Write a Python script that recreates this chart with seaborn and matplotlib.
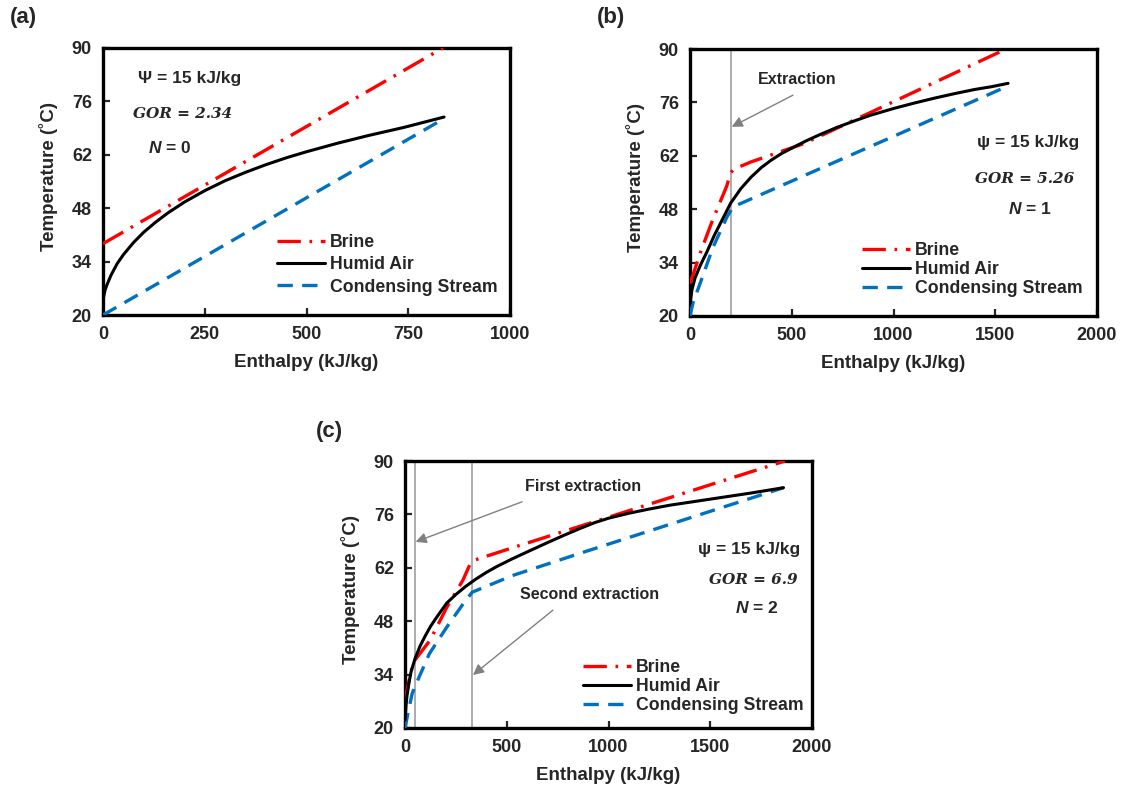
import numpy as np
import pandas as pd
import matplotlib
matplotlib.use("Agg")
import matplotlib.pyplot as plt
import seaborn as sns

# ---- Panel (a): N = 0 ----
a_brine_h = [0, 835]
a_brine_t = [38.7, 90]
a_air_h = [0, 5, 10, 20, 35, 50, 75, 100, 130, 160, 200, 250, 300, 350, 400,
           450, 500, 575, 650, 740, 838]
a_air_t = [24.0, 26.5, 28.0, 30.5, 33.5, 35.8, 39.0, 41.7, 44.4, 46.8, 49.6, 52.6,
           55.2, 57.4, 59.4, 61.2, 62.8, 65.0, 67.0, 69.2, 71.9]
a_cond_h = [0, 838]
a_cond_t = [20.0, 71.5]

# ---- Panel (b): N = 1, extraction at ~200 kJ/kg ----
b_brine_h = [0, 10, 50, 110, 180, 200, 220, 300, 430, 560, 1553]
b_brine_t = [28.5, 30.0, 36.5, 45.0, 54.0, 57.6, 58.6, 60.4, 62.8, 65.2, 90.0]
b_air_h = [0, 10, 25, 50, 83, 120, 160, 200, 250, 300, 350, 400, 450, 500, 570,
           640, 720, 800, 885, 1000, 1100, 1200, 1300, 1400, 1480, 1563]
b_air_t = [23.2, 27.0, 30.0, 33.2, 36.8, 41.2, 45.4, 49.6, 53.4, 56.4, 58.9, 60.9,
           62.6, 64.0, 65.9, 67.6, 69.4, 71.0, 72.6, 74.4, 75.8, 77.1, 78.3, 79.4,
           80.1, 81.0]
b_cond_h = [0, 15, 50, 113, 182, 211, 1563]
b_cond_t = [20.0, 23.5, 28.6, 38.0, 46.0, 48.6, 80.3]
b_extract = [200]

# ---- Panel (c): N = 2, extractions at ~50 and ~330 kJ/kg ----
c_brine_h = [0, 10, 25, 40, 123, 206, 285, 320, 340, 531, 1867]
c_brine_t = [26.8, 30.0, 33.5, 37.2, 43.0, 51.7, 58.8, 63.0, 64.0, 67.3, 90.0]
c_air_h = [0, 5, 10, 20, 30, 50, 75, 100, 125, 150, 175, 206, 250, 300, 350, 400,
           450, 525, 614, 700, 780, 860, 930, 1000, 1100, 1200, 1300, 1400, 1500,
           1600, 1700, 1860]
c_air_t = [22.0, 26.0, 28.5, 32.0, 34.8, 38.3, 41.6, 44.2, 46.6, 48.6, 50.5, 52.8,
           55.0, 57.2, 59.1, 60.8, 62.3, 64.3, 66.5, 68.6, 70.5, 72.3, 73.8, 75.0,
           76.3, 77.4, 78.4, 79.2, 80.0, 80.8, 81.6, 83.0]
c_cond_h = [0, 15, 35, 50, 120, 206, 285, 330, 530, 860, 1860]
c_cond_t = [20.0, 24.0, 29.0, 31.0, 39.5, 46.5, 52.5, 55.6, 60.0, 65.8, 83.0]
c_extract = [50, 330]

y_ticks = [20, 34, 48, 62, 76, 90]
series_names = ["Brine", "Humid Air", "Condensing Stream"]

sns.set_style("ticks")
plt.rcParams["font.family"] = ["Liberation Sans", "DejaVu Sans"]
plt.rcParams["font.weight"] = "bold"
plt.rcParams["mathtext.fontset"] = "custom"
plt.rcParams["mathtext.it"] = "Liberation Sans:italic:bold"
plt.rcParams["mathtext.rm"] = "Liberation Sans:bold"

RED = "#FF0000"
BLUE = "#0070C0"
GRAY = "#A6A6A6"

fig = plt.figure(figsize=(11.22, 7.90), dpi=100)
W, H = 1122, 790


def add_axes(left, top, right, bottom):
    return fig.add_axes([left / W, 1 - bottom / H, (right - left) / W, (bottom - top) / H])


ax_a = add_axes(103, 48, 510, 315)
ax_b = add_axes(690, 49, 1097, 316)
ax_c = add_axes(405, 461, 812, 728)


def draw_panel(ax, bh, bt, ah, at, ch, ct, xmax, xticks, extract):
    for x in extract:
        ax.axvline(x, color=GRAY, lw=1.3, zorder=1)
    df_b = pd.DataFrame({"h": bh, "t": bt})
    df_a = pd.DataFrame({"h": ah, "t": at})
    df_c = pd.DataFrame({"h": ch, "t": ct})
    sns.lineplot(data=df_b, x="h", y="t", ax=ax, color=RED, lw=2.4,
                 linestyle=(0, (7, 2.6, 0.8, 2.6)), label=series_names[0], zorder=3)
    sns.lineplot(data=df_a, x="h", y="t", ax=ax, color="black", lw=2.2,
                 label=series_names[1], zorder=4)
    sns.lineplot(data=df_c, x="h", y="t", ax=ax, color=BLUE, lw=2.4,
                 linestyle=(0, (4.6, 2.8)), label=series_names[2], zorder=3)
    ax.set_xlim(0, xmax)
    ax.set_ylim(20, 90)
    ax.set_xticks(xticks)
    ax.set_yticks(y_ticks)
    ax.set_xlabel("Enthalpy (kJ/kg)", fontsize=13.5, fontweight="bold", labelpad=8)
    ax.set_ylabel("Temperature (˚C)", fontsize=13.5, fontweight="bold")
    ax.yaxis.set_label_coords(-0.11, 0.52)
    for s in ax.spines.values():
        s.set_linewidth(2.4)
        s.set_color("black")
        s.set_visible(True)
    ax.tick_params(direction="in", length=5, width=1.6, labelsize=13, pad=8)
    for lab in ax.get_xticklabels() + ax.get_yticklabels():
        lab.set_fontweight("bold")


draw_panel(ax_a, a_brine_h, a_brine_t, a_air_h, a_air_t, a_cond_h, a_cond_t,
           1000, [0, 250, 500, 750, 1000], [])
draw_panel(ax_b, b_brine_h, b_brine_t, b_air_h, b_air_t, b_cond_h, b_cond_t,
           2000, [0, 500, 1000, 1500, 2000], b_extract)
draw_panel(ax_c, c_brine_h, c_brine_t, c_air_h, c_air_t, c_cond_h, c_cond_t,
           2000, [0, 500, 1000, 1500, 2000], c_extract)

# legends
leg_kw = dict(frameon=False, handlelength=2.7, handletextpad=0.3,
              borderpad=0, borderaxespad=0, prop={"weight": "bold", "size": 12.7})
ax_a.legend(loc="upper left", bbox_to_anchor=((277 - 103) / 407, (315 - 234) / 267),
            labelspacing=0.3, **leg_kw)
ax_b.legend(loc="upper left", bbox_to_anchor=((862 - 690) / 407, (316 - 242) / 267),
            labelspacing=0.12, **leg_kw)
ax_c.legend(loc="upper left", bbox_to_anchor=((583 - 405) / 407, (728 - 659) / 267),
            labelspacing=0.12, **leg_kw)

# parameter notes
def notes(ax, psi, psi_xy, gor, gor_xy, n, n_xy):
    ax.text(*psi_xy, f"{psi} = 15 kJ/kg", fontsize=12.5, fontweight="bold",
            ha="left", va="center")
    ax.text(*gor_xy, f"GOR = {gor}", fontsize=11, fontweight="bold", style="italic",
            family=["DejaVu Serif"], ha="left", va="center")
    ax.text(*n_xy, f"$N$ = {n}", fontsize=12.5, fontweight="bold", ha="left", va="center")


notes(ax_a, "Ψ", (86, 82.1), "2.34", (74, 72.7), "0", (110, 63.8))
notes(ax_b, "ψ", (1410, 65.4), "5.26", (1400, 55.9), "1", (1563, 48.1))
notes(ax_c, "ψ", (1440, 66.9), "6.9", (1494, 58.8), "2", (1622, 51.5))

# extraction call-outs
arrow = dict(arrowstyle="-|>", color="#808080", lw=1.0, mutation_scale=16,
             shrinkA=0, shrinkB=0)
ax_b.text(526, 81.9, "Extraction", fontsize=11.5, fontweight="bold", ha="center", va="center")
ax_b.annotate("", xy=(205, 69.6), xytext=(506, 77.9), arrowprops=arrow)
ax_c.text(875, 83.2, "First extraction", fontsize=11.5, fontweight="bold",
          ha="center", va="center")
ax_c.annotate("", xy=(52, 68.8), xytext=(575, 79.3), arrowprops=arrow)
ax_c.text(909, 55.1, "Second extraction", fontsize=11.5, fontweight="bold",
          ha="center", va="center")
ax_c.annotate("", xy=(334, 33.9), xytext=(727, 50.9), arrowprops=arrow)

# panel letters
fig.text(10 / W, 1 - 18 / H, "(a)", fontsize=16, fontweight="bold", ha="left", va="center")
fig.text(597 / W, 1 - 18 / H, "(b)", fontsize=16, fontweight="bold", ha="left", va="center")
fig.text(316 / W, 1 - 432 / H, "(c)", fontsize=16, fontweight="bold", ha="left", va="center")

fig.savefig("out.png", dpi=100, facecolor="white")
